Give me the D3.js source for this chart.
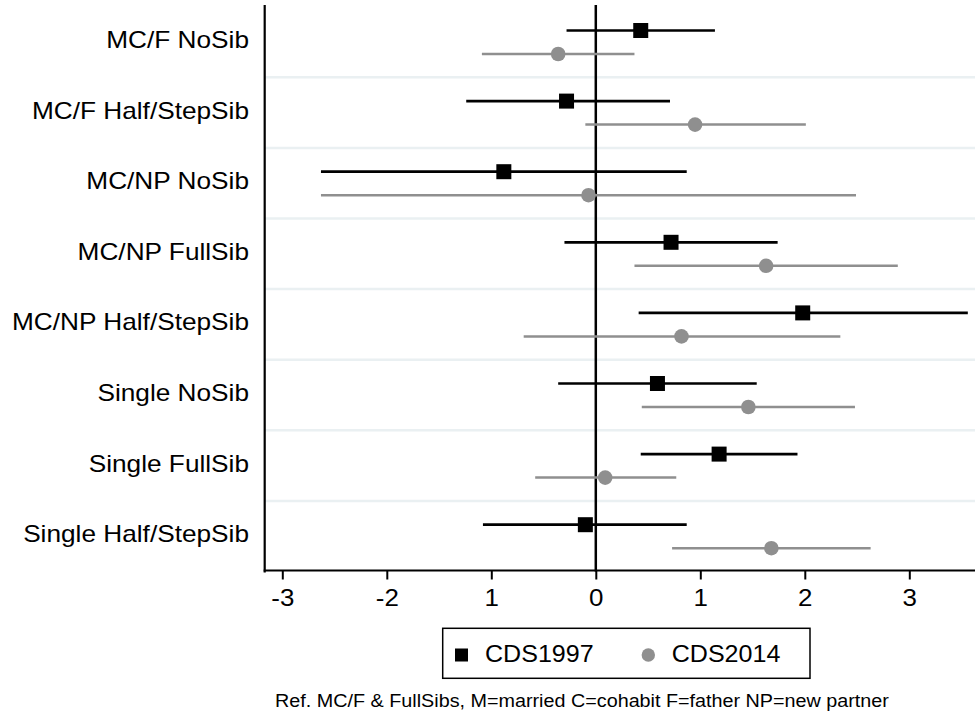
<!DOCTYPE html>
<html lang="en">
<head>
  <meta charset="UTF-8" />
  <title>CDS1997 vs CDS2014 coefficients</title>
  <script src="https://d3js.org/d3.v7.min.js"></script>
  <style>
    html, body { margin: 0; padding: 0; background: #fff; }
    svg { display: block; font-family: "Liberation Sans", Arial, sans-serif; }
  </style>
</head>
<body>
  <svg id="chart" width="975" height="717"></svg>

  <script>
    // Family types, top to bottom
    const categories = [
      "MC/F NoSib",
      "MC/F Half/StepSib",
      "MC/NP NoSib",
      "MC/NP FullSib",
      "MC/NP Half/StepSib",
      "Single NoSib",
      "Single FullSib",
      "Single Half/StepSib"
    ];

    const seriesNames = ["CDS1997", "CDS2014"];

    // point estimates and confidence bounds, one value per category
    const est1997 = [0.43, -0.28, -0.88, 0.72, 1.98, 0.59, 1.18, -0.10];
    const lo1997  = [-0.28, -1.24, -2.63, -0.30, 0.41, -0.36, 0.43, -1.08];
    const hi1997  = [1.14, 0.71, 0.87, 1.74, 3.56, 1.54, 1.93, 0.87];

    const est2014 = [-0.36, 0.95, -0.07, 1.63, 0.82, 1.46, 0.09, 1.68];
    const lo2014  = [-1.09, -0.10, -2.63, 0.37, -0.69, 0.44, -0.58, 0.73];
    const hi2014  = [0.37, 2.01, 2.49, 2.89, 2.34, 2.48, 0.77, 2.63];

    const tickValues = [-3, -2, -1, 0, 1, 2, 3];
    const tickLabels = ["-3", "-2", "1", "0", "1", "2", "3"];

    const note = "Ref. MC/F & FullSibs, M=married C=cohabit F=father NP=new partner";

    const rows = [];
    categories.forEach((c, i) => {
      rows.push({cat: c, series: "CDS1997", est: est1997[i], lo: lo1997[i], hi: hi1997[i]});
      rows.push({cat: c, series: "CDS2014", est: est2014[i], lo: lo2014[i], hi: hi2014[i]});
    });

    const color = {CDS1997: "#000000", CDS2014: "#8f8f8f"};

    const svg = d3.select("#chart");
    const plot = {left: 264.7, right: 975, top: 6.7, bottom: 571.5};

    const x = d3.scaleLinear()
        .domain([-3, 3])
        .range([282.3, 909.3]);

    const y = d3.scaleBand()
        .domain(categories)
        .range([plot.top, plot.bottom]);

    const inner = d3.scalePoint()
        .domain(seriesNames)
        .range([-11.5, 12.0]);

    const yPos = d => y(d.cat) + y.bandwidth() / 2 + inner(d.series);

    // light separators between categories
    svg.append("g")
      .selectAll("line")
      .data(categories.slice(1))
      .join("line")
        .attr("x1", plot.left)
        .attr("x2", plot.right)
        .attr("y1", d => y(d))
        .attr("y2", d => y(d))
        .attr("stroke", "#eaf0f2")
        .attr("stroke-width", 2.5);

    // zero reference line
    svg.append("line")
        .attr("x1", x(0)).attr("x2", x(0))
        .attr("y1", 5).attr("y2", plot.bottom)
        .attr("stroke", "#000")
        .attr("stroke-width", 2.5);

    // confidence intervals
    svg.append("g")
      .selectAll("line")
      .data(rows)
      .join("line")
        .attr("x1", d => x(d.lo))
        .attr("x2", d => x(d.hi))
        .attr("y1", yPos)
        .attr("y2", yPos)
        .attr("stroke", d => color[d.series])
        .attr("stroke-width", d => d.series === "CDS1997" ? 2.7 : 2.5);

    // markers
    const sq = 15;
    svg.append("g")
      .selectAll("rect")
      .data(rows.filter(d => d.series === "CDS1997"))
      .join("rect")
        .attr("x", d => x(d.est) - sq / 2)
        .attr("y", d => yPos(d) - sq / 2)
        .attr("width", sq)
        .attr("height", sq)
        .attr("fill", color.CDS1997);

    svg.append("g")
      .selectAll("circle")
      .data(rows.filter(d => d.series === "CDS2014"))
      .join("circle")
        .attr("cx", d => x(d.est))
        .attr("cy", yPos)
        .attr("r", 7.3)
        .attr("fill", color.CDS2014);

    // left axis line
    svg.append("line")
        .attr("x1", plot.left).attr("x2", plot.left)
        .attr("y1", 5).attr("y2", plot.bottom + 1)
        .attr("stroke", "#000")
        .attr("stroke-width", 2.2);

    // category labels (Stata text comes out a bit wide)
    svg.append("g")
      .selectAll("text")
      .data(categories)
      .join("text")
        .attr("transform", d => `translate(249,${y(d) + y.bandwidth() / 2 - 2}) scale(1.14,1)`)
        .attr("text-anchor", "end")
        .attr("dominant-baseline", "central")
        .attr("font-size", "23px")
        .attr("fill", "#000")
        .text(d => d);

    // bottom axis
    const xAxis = svg.append("g")
        .attr("transform", `translate(0,${plot.bottom - 1})`)
        .call(d3.axisBottom(x)
          .tickValues(tickValues)
          .tickSize(9)
          .tickFormat((d, i) => tickLabels[i]));

    xAxis.select(".domain").remove();
    xAxis.append("line")
        .attr("x1", plot.left - 1).attr("x2", plot.right)
        .attr("stroke", "#000")
        .attr("stroke-width", 2.2);
    xAxis.selectAll(".tick line")
        .attr("stroke", "#000")
        .attr("stroke-width", 2);
    xAxis.selectAll(".tick text")
        .attr("y", 0)
        .attr("dy", 0)
        .attr("transform", "translate(0,27) scale(1.08,1)")
        .attr("dominant-baseline", "central")
        .attr("font-family", "Liberation Sans, Arial, sans-serif")
        .attr("font-size", "24px")
        .attr("fill", "#000");

    // legend
    const legend = svg.append("g");
    legend.append("rect")
        .attr("x", 442.7).attr("y", 628.3)
        .attr("width", 367.3).attr("height", 50)
        .attr("fill", "#fff")
        .attr("stroke", "#000")
        .attr("stroke-width", 1.5);

    legend.append("rect")
        .attr("x", 455).attr("y", 648.5)
        .attr("width", 13).attr("height", 13)
        .attr("fill", color.CDS1997);
    legend.append("circle")
        .attr("cx", 648.3).attr("cy", 655)
        .attr("r", 6.7)
        .attr("fill", color.CDS2014);

    legend.selectAll("text")
      .data([{t: "CDS1997", x: 485}, {t: "CDS2014", x: 671.7}])
      .join("text")
        .attr("transform", d => `translate(${d.x},654) scale(1.09,1)`)
        .attr("dominant-baseline", "central")
        .attr("font-size", "23px")
        .text(d => d.t);

    // footnote
    svg.append("text")
        .attr("transform", "translate(582,701) scale(1.13,1)")
        .attr("text-anchor", "middle")
        .attr("dominant-baseline", "central")
        .attr("font-size", "17.5px")
        .text(note);
  </script>
</body>
</html>
